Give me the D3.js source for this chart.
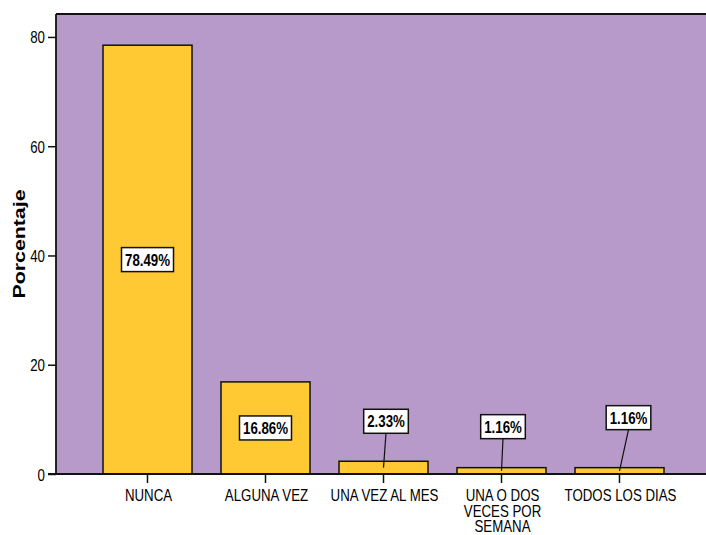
<!DOCTYPE html>
<html>
<head>
<meta charset="utf-8">
<script src="https://cdn.jsdelivr.net/npm/d3@7"></script>
<style>
  html, body { margin: 0; padding: 0; background: #ffffff; }
  svg { display: block; font-family: "Liberation Sans", Arial, Helvetica, sans-serif; }
</style>
</head>
<body>
<svg id="chart" width="706" height="535"></svg>
<script>
// ---- data ----
const categories = ["NUNCA", "ALGUNA VEZ", "UNA VEZ AL MES", "UNA O DOS VECES POR SEMANA", "TODOS LOS DIAS"];
const categoryLines = [["NUNCA"], ["ALGUNA VEZ"], ["UNA VEZ AL MES"], ["UNA O DOS", "VECES POR", "SEMANA"], ["TODOS LOS DIAS"]];
const percentages = [78.49, 16.86, 2.33, 1.16, 1.16];
const valueLabels = ["78.49%", "16.86%", "2.33%", "1.16%", "1.16%"];
const yTicks = [0, 20, 40, 60, 80];
const yTitle = "Porcentaje";
// label placement (callouts for small bars)
const labelLift = [null, null, 40, 41, 50];
const labelShift = [0, 0, 2.5, 1.5, 9];

// ---- layout ----
const W = 706, H = 535;
const plot = { left: 56, top: 14, right: 706, bottom: 474 };
const squeeze = 0.83;
const fs = "16px";
const colors = { bg: "#B89ACA", bar: "#FFC933", line: "#111111" };

const svg = d3.select("#chart");

const y = d3.scaleLinear().domain([0, 84.2]).range([plot.bottom, plot.top]);
const x = d3.scaleBand().domain(categories).range([88.5, 678.5])
  .paddingInner(0.2458).paddingOuter(0.1229);

// background
svg.append("rect").attr("x", plot.left).attr("y", plot.top)
  .attr("width", plot.right - plot.left).attr("height", plot.bottom - plot.top)
  .attr("fill", colors.bg);

// bars
svg.selectAll("rect.bar").data(percentages).join("rect").attr("class", "bar")
  .attr("x", (d, i) => x(categories[i]))
  .attr("y", d => y(d))
  .attr("width", x.bandwidth())
  .attr("height", d => y(0) - y(d))
  .attr("fill", colors.bar)
  .attr("stroke", colors.line).attr("stroke-width", 1.5);

// frame line: top
svg.append("line").attr("x1", plot.left).attr("x2", plot.right)
  .attr("y1", plot.top).attr("y2", plot.top)
  .attr("stroke", colors.line).attr("stroke-width", 1.8);

// y axis
const yAxis = d3.axisLeft(y).tickValues(yTicks).tickSize(8).tickFormat(d3.format("d"));
const gy = svg.append("g").attr("transform", `translate(${plot.left},0)`).call(yAxis);
gy.select(".domain").attr("stroke", colors.line).attr("stroke-width", 1.8)
  .attr("d", `M0,${plot.top}V${plot.bottom}`);
gy.selectAll(".tick line").attr("stroke", colors.line).attr("stroke-width", 1.5);
gy.selectAll(".tick text").remove();
gy.selectAll(".tick").append("text")
  .attr("transform", `translate(-11,6) scale(${squeeze},1)`)
  .attr("text-anchor", "end").attr("fill", "#000")
  .style("font-size", fs).style("font-family", "'Liberation Sans', Arial, sans-serif")
  .text(d => d);

// x axis
const xAxis = d3.axisBottom(x).tickSize(9).tickFormat("");
const gx = svg.append("g").attr("transform", `translate(0,${plot.bottom})`).call(xAxis);
gx.select(".domain").attr("stroke", colors.line).attr("stroke-width", 1.8)
  .attr("d", `M${plot.left - 8},0H${plot.right}`);
gx.selectAll(".tick line").attr("stroke", colors.line).attr("stroke-width", 1.5);
gx.selectAll(".tick").each(function(d, i) {
  const g = d3.select(this);
  categoryLines[i].forEach((ln, k) => {
    g.append("text")
      .attr("transform", `translate(1,${27 + k * 15.7}) scale(${squeeze},1)`)
      .attr("text-anchor", "middle").attr("fill", "#000")
      .style("font-size", fs).style("font-family", "'Liberation Sans', Arial, sans-serif")
      .text(ln);
  });
});

// y title
svg.append("text")
  .attr("transform", `translate(24.5,244) rotate(-90)`)
  .attr("text-anchor", "middle").attr("fill", "#000")
  .attr("textLength", 109).attr("lengthAdjust", "spacingAndGlyphs")
  .style("font-size", "17px").style("font-weight", "bold")
  .text(yTitle);

// value labels
percentages.forEach((v, i) => {
  const cx = x(categories[i]) + x.bandwidth() / 2;
  const barMid = (y(v) + y(0)) / 2;
  const lx = cx + labelShift[i];
  const ly = labelLift[i] == null ? barMid : y(v) - labelLift[i];
  const g = svg.append("g");
  const t = g.append("text")
    .attr("transform", `translate(${lx},${ly + 6}) scale(${squeeze},1)`)
    .attr("text-anchor", "middle").attr("fill", "#000")
    .style("font-size", fs).style("font-weight", "bold")
    .text(valueLabels[i]);
  const tw = t.node().getComputedTextLength() * squeeze;
  const bw = tw + 7, bh = 24;
  if (labelLift[i] != null) {
    g.insert("line", "text")
      .attr("x1", lx).attr("y1", ly + bh / 2)
      .attr("x2", cx).attr("y2", barMid)
      .attr("stroke", colors.line).attr("stroke-width", 1.2);
  }
  g.insert("rect", "text")
    .attr("x", lx - bw / 2).attr("y", ly - bh / 2)
    .attr("width", bw).attr("height", bh)
    .attr("fill", "#fff").attr("stroke", colors.line).attr("stroke-width", 1.5);
});
</script>
</body>
</html>
